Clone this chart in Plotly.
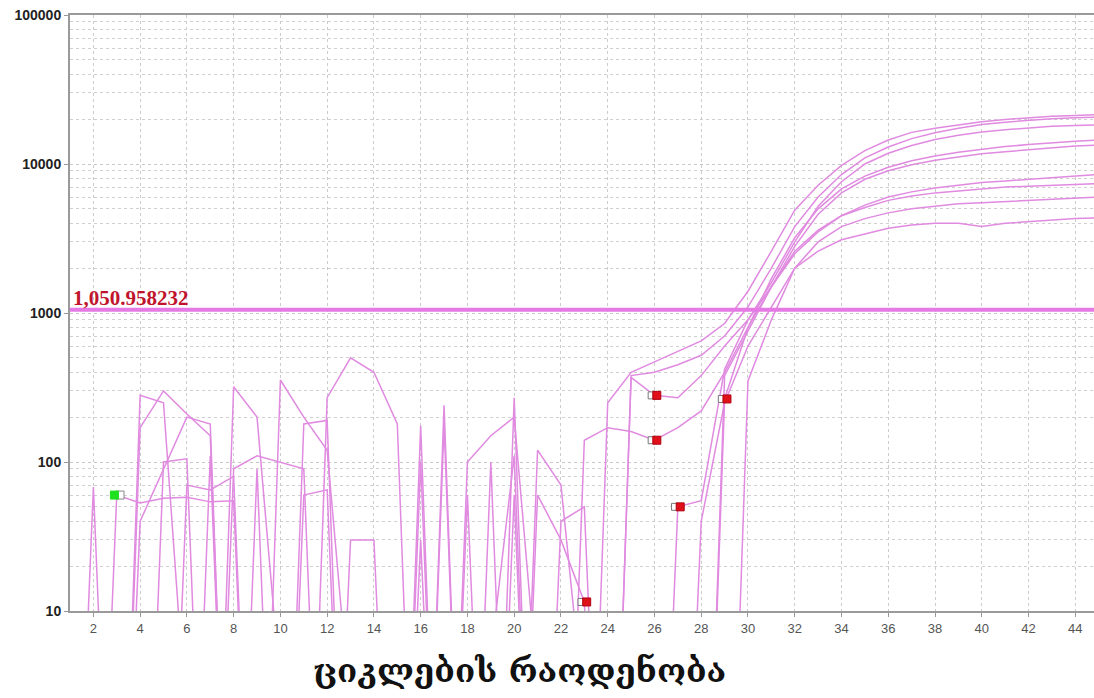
import math
import plotly.graph_objects as go

cycles = list(range(1, 46))

# delta-Rn values per well (values far below 10 = negative/noise, drawn off the bottom)
well_1 = [0.01, 68, 0.01, 280, 250, 2, 0.01, 320, 200, 3, 0.01, 270, 500, 400, 180, 0.01, 240, 0.01, 0.01, 270,
          0.01, 0.01, 0.01, 250, 400, 470, 550, 650, 850, 1400, 2600, 4900, 7200, 9800, 12300, 14500, 16300, 17400, 18300, 19200,
          19900, 20500, 20900, 21200, 21500]
well_2 = [0.01, 0.01, 0.01, 170, 300, 210, 150, 0.01, 0.01, 355, 200, 120, 2, 0.01, 0.01, 175, 0.01, 100, 150, 200,
          3, 0.01, 0.01, 0.01, 380, 400, 450, 520, 700, 1100, 2000, 3800, 6000, 8500, 11000, 13000, 14800, 16200, 17400, 18400,
          19100, 19700, 20100, 20400, 20600]
well_3 = [0.01, 0.01, 60, 53, 57, 58, 54, 55, 0.01, 0.01, 60, 65, 0.01, 0.01, 0.01, 30, 0.01, 0.01, 0.01, 0.01,
          120, 70, 2, 0.01, 370, 280, 270, 380, 600, 900, 1600, 3000, 5200, 7600, 10000, 11800, 13300, 14600, 15600, 16400,
          17000, 17500, 17900, 18100, 18300]
well_4 = [0.01, 0.01, 0.01, 0.01, 100, 105, 0.01, 90, 110, 100, 90, 0.01, 30, 30, 0.01, 0.01, 180, 0.01, 100, 0.01,
          0.01, 0.01, 140, 170, 160, 140, 170, 220, 400, 800, 1700, 3200, 5000, 6800, 8300, 9500, 10500, 11300, 12000, 12600,
          13100, 13500, 13900, 14200, 14500]
well_5 = [0.01, 0.01, 0.01, 0.01, 0.01, 0.01, 110, 0.01, 0.01, 0.01, 180, 190, 0.01, 0.01, 0.01, 0.01, 0.01, 60, 0.01, 0.01,
          60, 30, 11.5, 0.01, 0.01, 0.01, 0.01, 0.01, 380, 750, 1500, 2800, 4600, 6400, 7900, 9000, 9900, 10600, 11200, 11700,
          12100, 12500, 12900, 13200, 13400]
well_6 = [0.01, 0.01, 0.01, 40, 90, 200, 180, 0.01, 0.01, 0.01, 0.01, 0.01, 0.01, 0.01, 0.01, 0.01, 0.01, 0.01, 5, 110,
          0.01, 0.01, 0.01, 0.01, 0.01, 0.01, 50, 55, 420, 900, 1500, 2500, 3500, 4500, 5300, 6000, 6500, 6900, 7200, 7500,
          7700, 7900, 8100, 8300, 8500]
well_7 = [0.01, 0.01, 0.01, 0.01, 0.01, 70, 65, 80, 0.01, 0.01, 0.01, 0.01, 0.01, 0.01, 0.01, 100, 0.01, 0.01, 0.01, 60,
          0.01, 0.01, 0.01, 0.01, 0.01, 0.01, 0.01, 0.01, 265, 800, 1500, 2600, 3600, 4500, 5100, 5700, 6100, 6400, 6600, 6800,
          7000, 7100, 7200, 7300, 7400]
well_8 = [0.01, 0.01, 0.01, 0.01, 0.01, 0.01, 0.01, 0.01, 90, 0.01, 0.01, 0.01, 0.01, 0.01, 0.01, 0.01, 0.01, 0.01, 0.01, 0.01,
          0.01, 40, 50, 0.01, 0.01, 0.01, 0.01, 40, 250, 600, 1100, 2000, 3000, 3800, 4300, 4700, 5000, 5200, 5400, 5500,
          5600, 5700, 5800, 5900, 6000]
well_9 = [0.01, 0.01, 0.01, 0.01, 0.01, 0.01, 0.01, 0.01, 0.01, 0.01, 0.01, 0.01, 0.01, 0.01, 0.01, 0.01, 0.01, 0.01, 0.01, 0.01,
          0.01, 0.01, 0.01, 0.01, 0.01, 0.01, 0.01, 0.01, 0.01, 350, 900, 2000, 2600, 3100, 3400, 3700, 3900, 4000, 4000, 3800,
          4000, 4100, 4200, 4300, 4350]
wells = [well_1, well_2, well_3, well_4, well_5, well_6, well_7, well_8, well_9]

threshold = 1050.958232
threshold_label = "1,050.958232"

# start / end markers
start_x = [3]
start_y = [60]
end_x = [23, 26, 26, 27, 29]
end_y = [11.5, 280, 140, 50, 265]

y_tickvals = [10, 100, 1000, 10000, 100000]
y_ticktext = ["10", "100", "1000", "10000", "100000"]
x_title = "ციკლების რაოდენობა"

LINE = "#E08AE0"
fig = go.Figure()
for w in wells:
    fig.add_trace(go.Scatter(x=cycles, y=w, mode="lines",
                             line=dict(color=LINE, width=1.5), showlegend=False, hoverinfo="skip"))

fig.add_trace(go.Scatter(x=[1, 45], y=[threshold, threshold], mode="lines",
                         line=dict(color="#E57AE5", width=4), showlegend=False))

# markers: half white / half coloured
fig.add_trace(go.Scatter(x=[v + 0.14 for v in start_x], y=start_y, mode="markers",
                         marker=dict(symbol="square", size=8, color="white", line=dict(color="#888", width=1)),
                         showlegend=False))
fig.add_trace(go.Scatter(x=[v - 0.1 for v in start_x], y=start_y, mode="markers",
                         marker=dict(symbol="square", size=8, color="#1EE01E", line=dict(color="#1EE01E", width=1)),
                         showlegend=False))
fig.add_trace(go.Scatter(x=[v - 0.12 for v in end_x], y=end_y, mode="markers",
                         marker=dict(symbol="square", size=7, color="white", line=dict(color="#777", width=1)),
                         showlegend=False))
fig.add_trace(go.Scatter(x=[v + 0.1 for v in end_x], y=end_y, mode="markers",
                         marker=dict(symbol="square", size=8, color="#E0101A", line=dict(color="#B00010", width=1)),
                         showlegend=False))

fig.add_annotation(x=1.05, y=math.log10(threshold), xref="x", yref="y", text=threshold_label,
                   showarrow=False, xanchor="left", yanchor="bottom", yshift=-2,
                   font=dict(family="Liberation Serif", size=21, color="#C0142C", weight="bold"))

fig.add_annotation(x=0.4385, y=-0.064, xref="paper", yref="paper", text=x_title, showarrow=False,
                   xanchor="center", yanchor="top",
                   font=dict(family="DejaVu Serif, DejaVu Sans", size=33, color="#111", weight="bold"))

minor_vals = [m * 10 ** d for d in range(1, 5) for m in range(2, 10)]

fig.update_xaxes(range=[1, 44.8], tick0=0, dtick=2, showgrid=True, gridcolor="#cccccc", griddash="dot",
                 gridwidth=1, showline=True, linecolor="#9a9a9a", linewidth=2, mirror=True,
                 ticks="outside", ticklen=4, tickcolor="#999", zeroline=False,
                 tickfont=dict(family="Liberation Sans", size=13, color="#555"))
fig.update_yaxes(type="log", range=[1, 5], tickvals=y_tickvals, ticktext=y_ticktext,
                 showgrid=True, gridcolor="#c8c8c8", griddash="dot", gridwidth=1,
                 showline=True, linecolor="#9a9a9a", linewidth=2,
                 ticks="outside", ticklen=4, tickcolor="#999",
                 minor=dict(tickvals=minor_vals, showgrid=True, gridcolor="#d0d0d0", griddash="dot", ticklen=0),
                 tickfont=dict(family="Liberation Sans", size=14, color="#222", weight="bold"))

fig.update_layout(width=1094, height=698, margin=dict(l=70, r=0, t=15, b=87),
                  plot_bgcolor="white", paper_bgcolor="white")

fig.write_html("out.html")
